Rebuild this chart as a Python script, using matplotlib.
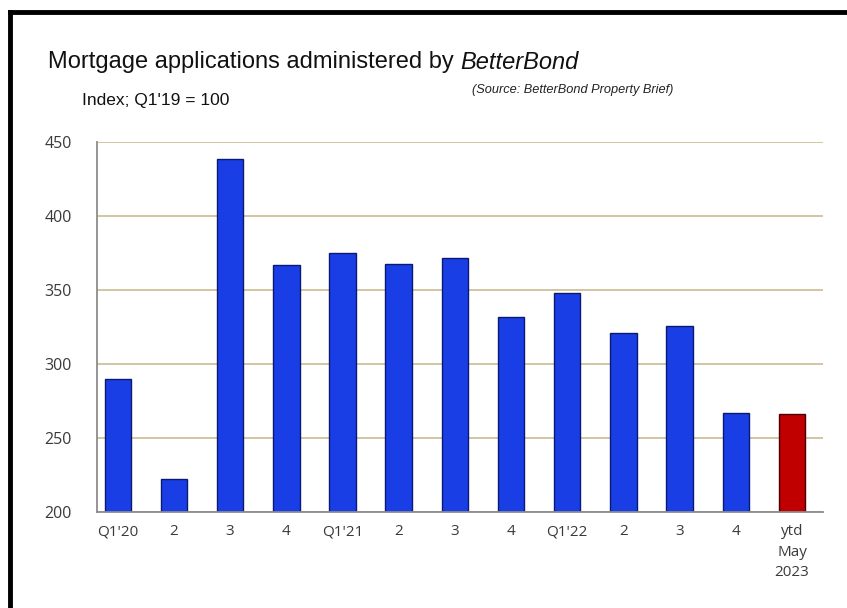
"""
Mortgage applications administered by BetterBond (index bars)
"""

import matplotlib
matplotlib.use('Agg')
from matplotlib import pyplot as plt
from matplotlib.lines import Line2D
import numpy as np

CATEGORIES = ["Q1'20", '2', '3', '4', "Q1'21", '2', '3', '4', "Q1'22", '2', '3', '4', 'ytd\nMay\n2023']
VALUES = [290, 222, 439, 367, 375, 368, 372, 332, 348, 321, 326, 267, 266]
Y_TICKS = [200, 250, 300, 350, 400, 450]

BLUE = '#1a3ee6'
RED = '#c00000'
GRID = '#cfc29a'
AXIS = '#8c8c8c'
LABEL = '#3a3a3a'


def main():
    fig = plt.figure(figsize=(8.47, 6.08), dpi=100)
    ax = fig.add_axes([0.1145, 0.158, 0.857, 0.608])

    x = np.arange(len(VALUES))
    colors = [BLUE] * (len(VALUES) - 1) + [RED]
    edges = ['#0a1a6e'] * (len(VALUES) - 1) + ['#4a0000']
    ax.bar(x, [v - Y_TICKS[0] for v in VALUES], bottom=Y_TICKS[0], width=0.47,
           color=colors, edgecolor=edges, linewidth=1.0, zorder=3)

    ax.set_ylim(Y_TICKS[0], Y_TICKS[-1])
    ax.set_xlim(-0.37, 12.55)
    ax.set_yticks(Y_TICKS)
    ax.set_xticks(x)
    ax.set_xticklabels(CATEGORIES, linespacing=1.5, va='top')
    ax.tick_params(axis='both', length=0, colors=LABEL)
    ax.tick_params(axis='x', pad=9, labelsize=11)
    ax.tick_params(axis='y', pad=18, labelsize=11.5)
    for lab in ax.get_xticklabels() + ax.get_yticklabels():
        lab.set_family('Open Sans')

    ax.grid(axis='y', color=GRID, lw=1.3, zorder=0)
    for s in ['top', 'right']:
        ax.spines[s].set_visible(False)
    for s in ['left', 'bottom']:
        ax.spines[s].set_color(AXIS)
        ax.spines[s].set_linewidth(1.3)
        ax.spines[s].set_zorder(4)

    # title: plain part then italic company name
    t = fig.text(0.057, 0.898, 'Mortgage applications administered by ', fontsize=17,
                 family='Liberation Sans', va='center', ha='left', color='#111111')
    fig.canvas.draw()
    bb = t.get_window_extent().transformed(fig.transFigure.inverted())
    fig.text(bb.x1, 0.898, 'BetterBond', fontsize=17, style='italic',
             family='Liberation Sans', va='center', ha='left', color='#111111')

    fig.text(0.097, 0.834, "Index; Q1'19 = 100", fontsize=12.5, family='Liberation Sans',
             va='center', ha='left', color='#111111')
    fig.text(0.557, 0.852, '(Source: BetterBond Property Brief)', fontsize=9.2, style='italic',
             family='Liberation Sans', va='center', ha='left', color='#222222')

    # frame lines at the top and left of the image
    fig.add_artist(Line2D([0.0118, 1.0], [0.980, 0.980], color='black', lw=3.5,
                          transform=fig.transFigure))
    fig.add_artist(Line2D([0.0118, 0.0118], [0.0, 0.980], color='black', lw=3.5,
                          transform=fig.transFigure))

    fig.savefig('out.png', dpi=100)


if __name__ == '__main__':
    main()
